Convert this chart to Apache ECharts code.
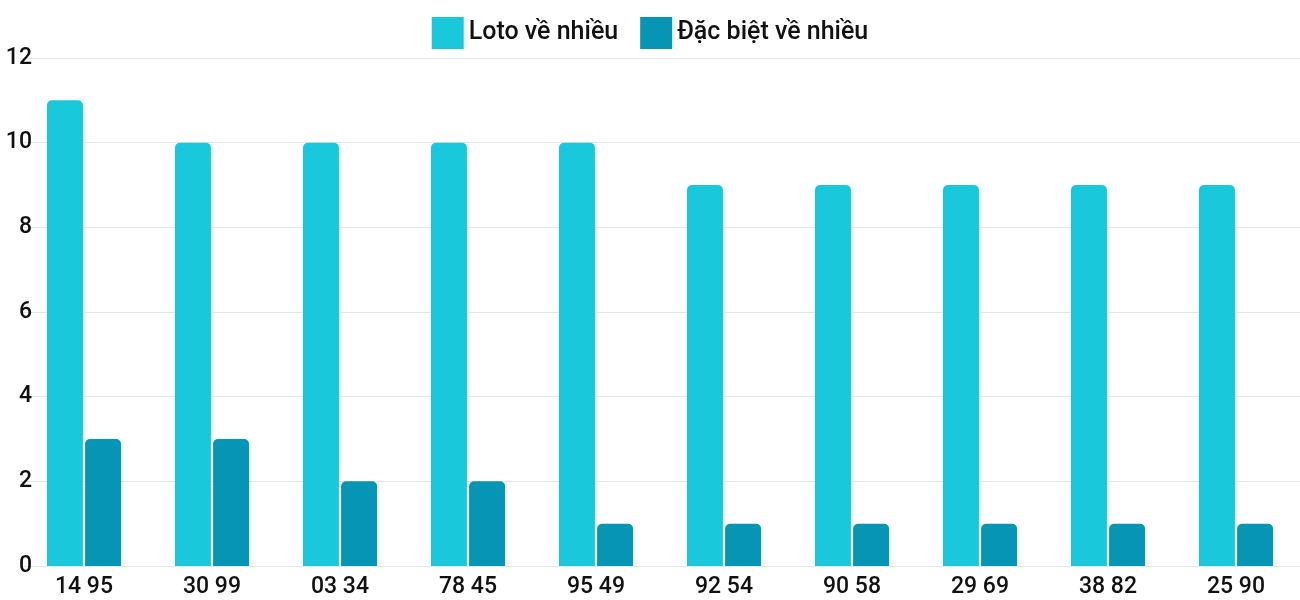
<!DOCTYPE html>
<html><head><meta charset="utf-8">
<script src="https://cdn.jsdelivr.net/npm/echarts@6/dist/echarts.min.js"></script>
<style>html,body{margin:0;padding:0;background:#fff}#c{width:1300px;height:600px}</style>
</head><body><div id="c"></div>
<script>
const categories = ["14 95","30 99","03 34","78 45","95 49","92 54","90 58","29 69","38 82","25 90"];
const lotoValues = [11,10,10,10,10,9,9,9,9,9];
const dbValues = [3,3,2,2,1,1,1,1,1,1];
const yTicks = [0,2,4,6,8,10,12];
const chart = echarts.init(document.getElementById('c'));
chart.setOption({
  animation:false,
  textStyle:{fontFamily:'Roboto'},
  legend:{top:12,left:'center',icon:'rect',itemWidth:32,itemHeight:32,itemGap:22,
    textStyle:{fontSize:25,color:'#111',fontFamily:'Roboto',fontWeight:500},
    data:['Loto về nhiều','Đặc biệt về nhiều']},
  grid:{left:20,top:58,right:-26,bottom:34,containLabel:false},
  xAxis:{type:'category',data:categories,
    axisLine:{show:false},axisTick:{show:false},
    axisLabel:{fontSize:23,color:'#111',margin:10,fontWeight:500}},
  yAxis:{type:'value',min:0,max:12,interval:2,
    axisLine:{show:false},axisTick:{show:false},
    splitLine:{lineStyle:{color:'#e6e6e6'}},
    axisLabel:{fontSize:23,color:'#111',margin:-12,fontWeight:500}},
  series:[
    {name:'Loto về nhiều',type:'bar',data:lotoValues,barWidth:36,barGap:'6%',
     itemStyle:{color:'#1ac8db',borderRadius:[5,5,0,0]}},
    {name:'Đặc biệt về nhiều',type:'bar',data:dbValues,barWidth:36,
     itemStyle:{color:'#0795b6',borderRadius:[5,5,0,0]}}
  ]
});
</script></body></html>
